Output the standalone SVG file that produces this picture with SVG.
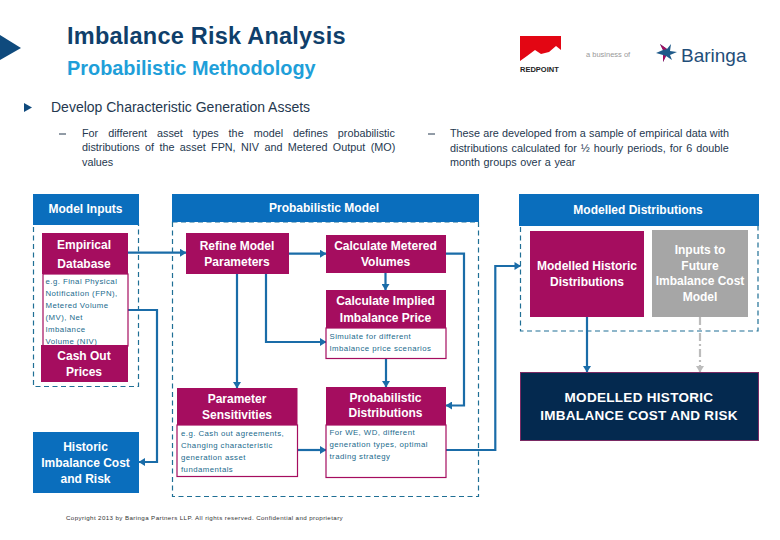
<svg xmlns="http://www.w3.org/2000/svg" width="780" height="540" viewBox="0 0 780 540">
<style>
text{font-family:"Liberation Sans",Arial,sans-serif}
.hdr{fill:#0a6ebd}
.mag{fill:#a50d5f}
.box{fill:#fff;stroke:#a50d5f;stroke-width:1.2}
.dash{fill:none;stroke:#1f6f95;stroke-width:1.2;stroke-dasharray:5 3.5}
.w{fill:#fff;font-weight:bold;font-size:12px;text-anchor:middle}
.s{fill:#1a6a8c;font-size:7.8px;letter-spacing:.45px}
.b{fill:#25384f;font-size:10.8px}
.c{fill:none;stroke:#1a6ca8;stroke-width:2.2;marker-end:url(#a)}
</style>
<defs>
<marker id="a" viewBox="0 0 10 10" refX="9.5" refY="5" markerWidth="8" markerHeight="8" markerUnits="userSpaceOnUse" orient="auto"><path d="M2 0L10 5L2 10Z" fill="#1a6ca8"/></marker>
<marker id="g" viewBox="0 0 10 10" refX="9.5" refY="5" markerWidth="8" markerHeight="8" markerUnits="userSpaceOnUse" orient="auto"><path d="M2 0L10 5L2 10Z" fill="#bcbcbc"/></marker>
</defs>
<rect width="780" height="540" fill="#fff"/>
<g id="heading">
<path d="M0 35L21 48L0 60Z" fill="#0f4a7d"/>
<text x="67" y="44" font-size="23.5" fill="#0f3f6b" font-weight="bold" letter-spacing=".23">Imbalance Risk Analysis</text>
<text x="67" y="75" font-size="19.900" fill="#1f9fd9" font-weight="bold">Probabilistic Methodology</text>
<path d="M24 103L32 107.5L24 112Z" fill="#0f4a7d"/>
<text x="51" y="112" font-size="14" fill="#25384f">Develop Characteristic Generation Assets</text>
<path d="M59 134H66" stroke="#25384f" stroke-width="1"/>
<text class="b" x="82" y="137" word-spacing="7">For different asset types the model defines probabilistic</text>
<text class="b" x="82" y="151" word-spacing="2.4">distributions of the asset FPN, NIV and Metered Output (MO)</text>
<text class="b" x="82" y="166">values</text>
<path d="M428 134H435" stroke="#25384f" stroke-width="1"/>
<text class="b" x="450" y="137" word-spacing=".2">These are developed from a sample of empirical data with</text>
<text class="b" x="450" y="152" word-spacing="1">distributions calculated for ½ hourly periods, for 6 double</text>
<text class="b" x="450" y="166" word-spacing=".6">month groups over a year</text>
</g>
<g id="logos">
<path d="M520 36H561V50L556 46L549 52L541 54L535 50L527 56L520 61Z" fill="#e30613"/>
<text x="520" y="72" font-size="7.500" font-weight="bold" fill="#222">REDPOINT</text>
<text x="586" y="57" font-size="7.5" fill="#999">a business of</text>
<path d="M656 53L663 50L660 44L667 49L671 44L670 51L677 52L670 55L672 60L666 56L663 62L663 55Z" fill="#1f5a8a"/>
<path d="M660 44L667 49L663 50Z M663 62L666 56L663 55Z" fill="#a50d5f"/>
<text x="681" y="62" font-size="19" fill="#1f4e79" font-weight="bold" style="font-weight:500">Baringa</text>
</g>
<g id="frames">
<rect class="dash" x="33.5" y="224" width="105" height="162.5"/>
<rect class="dash" x="172.5" y="222" width="306" height="274.5"/>
<rect class="dash" x="520.5" y="225" width="237.5" height="106"/>
</g>
<g id="connectors">
<path class="c" d="M128 252.7H186"/>
<path class="c" d="M128 310H157V462H139"/>
<path class="c" d="M237 274V388"/>
<path class="c" d="M266 274V342H326"/>
<path class="c" d="M289 253.7H326"/>
<path class="c" d="M385.5 273V290"/>
<path class="c" d="M386 358.5V387"/>
<path class="c" d="M446 253.7H464V405.5H446"/>
<path class="c" d="M298 450H326"/>
<path class="c" d="M446 450H495.3V266H520.5"/>
<path class="c" d="M587 317V372"/>
<path d="M700 317V372" fill="none" stroke="#bcbcbc" stroke-width="2.2" stroke-dasharray="8 3 2 3" marker-end="url(#g)"/>
</g>
<g id="model-inputs"><rect class="hdr" x="33" y="194" width="106" height="31"/><text class="w" x="85.500" y="213">Model Inputs</text></g>
<g id="probabilistic-model"><rect class="hdr" x="172" y="194" width="307" height="28"/><text class="w" x="324" y="212">Probabilistic Model</text></g>
<g id="modelled-distributions"><rect class="hdr" x="519" y="194" width="240" height="32"/><text class="w" x="638" y="214">Modelled Distributions</text></g>
<g id="empirical-database">
<rect class="box" x="43" y="274" width="85" height="72"/>
<rect class="mag" x="42" y="233" width="86" height="41"/>
<text class="w" x="84" y="249">Empirical</text><text class="w" x="84" y="268">Database</text>
<text class="s" x="45.500" y="284">e.g. Final Physical</text>
<text class="s" x="45.500" y="296">Notification (FPN),</text>
<text class="s" x="45.500" y="308">Metered Volume</text>
<text class="s" x="45.500" y="320">(MV), Net</text>
<text class="s" x="45.500" y="332">Imbalance</text>
<text class="s" x="45.500" y="344">Volume (NIV)</text>
</g>
<g id="cash-out-prices"><rect class="mag" x="41" y="345" width="87" height="37"/><text class="w" x="84" y="360">Cash Out</text><text class="w" x="84" y="376">Prices</text></g>
<g id="historic-imbalance"><rect class="hdr" x="33" y="432" width="106" height="61"/><text class="w" x="85.500" y="451">Historic</text><text class="w" x="85.500" y="467">Imbalance Cost</text><text class="w" x="85.500" y="483">and Risk</text></g>
<g id="refine-model"><rect class="mag" x="186" y="233" width="103" height="41"/><text class="w" x="237" y="250">Refine Model</text><text class="w" x="237" y="266">Parameters</text></g>
<g id="calculate-metered"><rect class="mag" x="326" y="235" width="120" height="38"/><text class="w" x="385.500" y="250">Calculate Metered</text><text class="w" x="385.500" y="266">Volumes</text></g>
<g id="calculate-implied">
<rect class="box" x="326" y="328" width="120" height="30.500"/>
<rect class="mag" x="326" y="290" width="120" height="38"/>
<text class="w" x="385.500" y="305">Calculate Implied</text><text class="w" x="385.500" y="322">Imbalance Price</text>
<text class="s" x="329.500" y="339">Simulate for different</text>
<text class="s" x="329.500" y="351">Imbalance price scenarios</text>
</g>
<g id="parameter-sensitivities">
<rect class="box" x="177" y="425" width="120.500" height="51.500"/>
<rect class="mag" x="177" y="388" width="120.500" height="37"/>
<text class="w" x="237" y="403">Parameter</text><text class="w" x="237" y="419">Sensitivities</text>
<text class="s" x="181" y="436">e.g. Cash out agreements,</text>
<text class="s" x="181" y="448">Changing characteristic</text>
<text class="s" x="181" y="460">generation asset</text>
<text class="s" x="181" y="472">fundamentals</text>
</g>
<g id="probabilistic-distributions">
<rect class="box" x="326" y="425" width="120" height="52.500"/>
<rect class="mag" x="326" y="387" width="120" height="38"/>
<text class="w" x="385.500" y="402">Probabilistic</text><text class="w" x="385.500" y="417">Distributions</text>
<text class="s" x="329.500" y="435">For WE, WD, different</text>
<text class="s" x="329.500" y="447">generation types, optimal</text>
<text class="s" x="329.500" y="459">trading strategy</text>
</g>
<g id="modelled-historic"><rect class="mag" x="530" y="231" width="114" height="86"/><text class="w" x="587" y="270">Modelled Historic</text><text class="w" x="587" y="286">Distributions</text></g>
<g id="inputs-future"><rect x="652" y="230" width="96" height="87" fill="#a6a6a6"/><text class="w" x="700" y="254">Inputs to</text><text class="w" x="700" y="270">Future</text><text class="w" x="700" y="285">Imbalance Cost</text><text class="w" x="700" y="301">Model</text></g>
<g id="modelled-historic-imbalance"><rect x="520.500" y="372.500" width="238" height="68" fill="#04294f" stroke="#7a2a63" stroke-width="1"/><text class="w" x="639" y="402" style="font-size:13.500px;letter-spacing:.3px">MODELLED HISTORIC</text><text class="w" x="639" y="420" style="font-size:13.500px;letter-spacing:.3px">IMBALANCE COST AND RISK</text></g>
<text x="66" y="520" font-size="6.200" fill="#333" letter-spacing=".39">Copyright 2013 by Baringa Partners LLP. All rights reserved. Confidential and proprietary</text>
</svg>
